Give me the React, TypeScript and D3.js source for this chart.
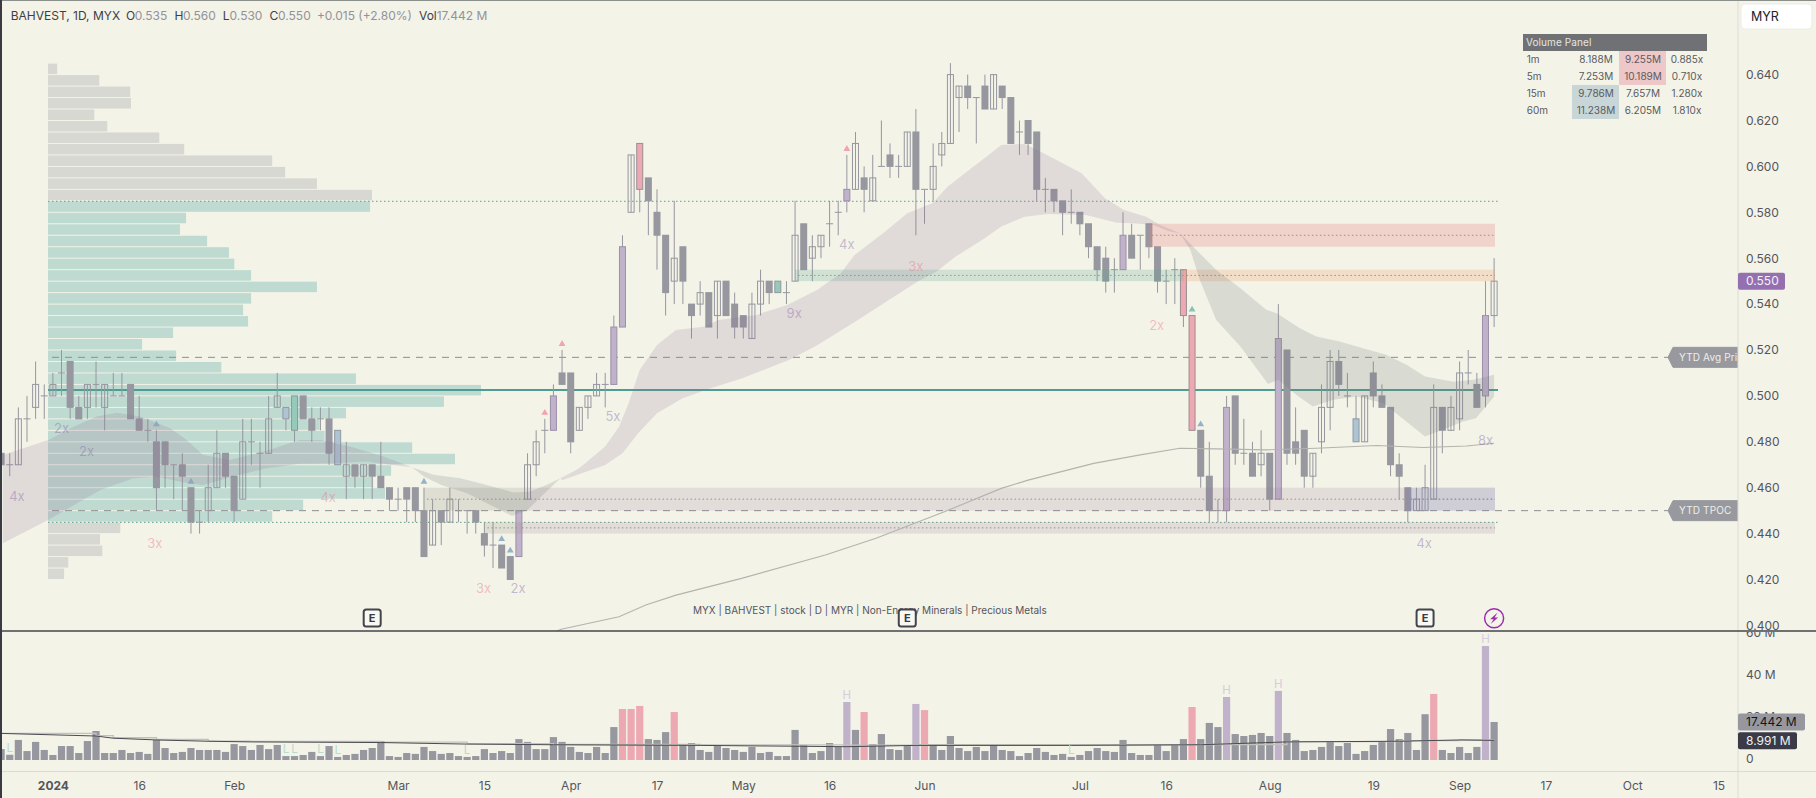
import React, { useEffect, useRef } from 'react'
import * as d3 from 'd3'

const FONT = 'Inter, sans-serif'
const BG = '#f3f3e8'

// daily bars, index 0 = first visible bar
const opens = [
  .475, .47, .47, .49, .495, .50, .50, .51, .515, .495,
  .495, .505, .495, .50, .50, .505, .49, .485, .48, .48,
  .47, .47, .46, .445, .45, .46, .475, .465, .455, .48,
  .475, .475, .495, .495, .50, .50, .49, .49, .49, .47,
  .465, .47, .465, .47, .465, .46, .455, .46, .46, .45,
  .435, .45, .445, .45, .45, .45, .44, .435, .435, .43,
  .43, .455, .47, .485, .485, .51, .51, .485, .495, .50,
  .505, .505, .53, .58, .61, .595, .58, .57, .55, .565,
  .54, .54, .545, .535, .55, .54, .535, .525, .54, .55,
  .55, .545, .55, .575, .56, .565, .575, .58, .585, .59,
  .595, .585, .60, .605, .60, .60, .615, .59, .59, .605,
  .61, .63, .635, .63, .635, .625, .635, .63, .615, .62,
  .615, .59, .59, .585, .58, .58, .575, .565, .56, .555,
  .555, .57, .57, .575, .565, .55, .555, .555, .535, .485,
  .465, .45, .45, .50, .475, .475, .47, .475, .455, .52,
  .48, .485, .465, .48, .495, .515, .50, .48, .48, .51,
  .50, .495, .47, .46, .45, .45, .455, .495, .485, .49,
  .51, .505, .50, .535,
]
const highs = [
  .475, .475, .495, .50, .515, .505, .51, .52, .515, .50,
  .505, .515, .505, .51, .51, .505, .50, .49, .485, .48,
  .47, .475, .46, .45, .47, .485, .475, .465, .49, .49,
  .48, .50, .51, .495, .50, .50, .495, .495, .495, .485,
  .48, .47, .47, .47, .48, .46, .46, .46, .46, .46,
  .455, .45, .46, .455, .45, .45, .445, .445, .435, .43,
  .45, .475, .485, .49, .505, .52, .51, .495, .50, .51,
  .51, .535, .57, .605, .61, .595, .59, .57, .585, .565,
  .54, .55, .545, .55, .55, .545, .535, .545, .555, .55,
  .55, .55, .585, .575, .57, .57, .585, .585, .605, .615,
  .60, .605, .62, .61, .605, .615, .625, .59, .61, .615,
  .645, .635, .64, .63, .64, .64, .635, .63, .62, .62,
  .615, .595, .59, .585, .59, .58, .575, .565, .565, .56,
  .58, .575, .57, .575, .565, .555, .56, .555, .535, .485,
  .48, .455, .50, .50, .49, .48, .485, .475, .54, .52,
  .495, .485, .475, .505, .52, .52, .51, .50, .50, .515,
  .505, .495, .475, .46, .46, .47, .505, .495, .50, .515,
  .52, .51, .55, .56,
]
const lows = [
  .47, .465, .47, .48, .49, .49, .50, .50, .49, .49,
  .49, .495, .485, .50, .50, .49, .485, .48, .45, .46,
  .455, .45, .44, .44, .445, .46, .46, .445, .455, .47,
  .46, .475, .495, .485, .48, .49, .48, .485, .47, .47,
  .455, .46, .455, .455, .46, .45, .45, .445, .445, .43,
  .435, .435, .445, .445, .44, .44, .43, .425, .425, .42,
  .43, .455, .465, .475, .485, .505, .475, .485, .49, .50,
  .495, .505, .53, .58, .58, .57, .555, .535, .54, .54,
  .525, .535, .53, .525, .535, .525, .525, .525, .535, .54,
  .545, .54, .55, .555, .55, .56, .565, .57, .58, .59,
  .58, .585, .60, .595, .595, .60, .57, .575, .585, .60,
  .61, .615, .625, .61, .625, .625, .625, .61, .605, .605,
  .585, .58, .58, .57, .575, .57, .56, .55, .545, .545,
  .555, .56, .555, .56, .545, .54, .54, .53, .485, .46,
  .445, .445, .445, .47, .47, .465, .465, .45, .455, .47,
  .47, .46, .46, .475, .485, .50, .495, .48, .48, .495,
  .495, .465, .455, .445, .45, .45, .455, .475, .485, .485,
  .505, .495, .495, .53,
]
const closes = [
  .47, .47, .49, .49, .505, .50, .505, .51, .495, .49,
  .505, .505, .505, .50, .50, .49, .485, .485, .46, .47,
  .47, .465, .445, .445, .46, .475, .465, .45, .48, .48,
  .475, .49, .50, .49, .485, .49, .485, .49, .475, .485,
  .47, .465, .47, .465, .46, .455, .455, .455, .45, .43,
  .45, .445, .455, .45, .45, .445, .435, .435, .425, .42,
  .45, .47, .48, .485, .50, .505, .48, .495, .50, .505,
  .505, .53, .565, .605, .59, .585, .57, .545, .56, .55,
  .535, .545, .53, .55, .535, .53, .53, .54, .55, .545,
  .545, .545, .57, .555, .565, .57, .575, .58, .59, .61,
  .59, .595, .60, .60, .60, .615, .59, .59, .60, .61,
  .64, .635, .63, .63, .625, .64, .63, .61, .615, .61,
  .59, .59, .585, .58, .58, .575, .565, .555, .55, .555,
  .57, .56, .57, .565, .55, .55, .555, .535, .485, .465,
  .45, .45, .495, .475, .475, .465, .475, .455, .525, .475,
  .475, .465, .475, .495, .515, .505, .50, .49, .50, .50,
  .495, .47, .465, .45, .455, .46, .495, .485, .495, .51,
  .51, .495, .535, .55,
]

const purpleBars = [61, 65, 72, 73, 99, 131, 143, 149, 173]
const pinkBars = [75, 138, 139]
const blueBars = [34, 40, 158]
const tealBars = [35, 91]

// volume in millions
const volumes = [
  5, 2.4, 9.2, 4.1, 8.3, 4.6, 2.3, 6.4, 6.4, 3.2,
  8.7, 13.3, 3.2, 3.2, 4.6, 3.2, 3.7, 2.8, 9.2, 5.5,
  3.2, 3.7, 5.5, 4.6, 4.6, 4.6, 3.7, 7.3, 6.4, 4.6,
  6.9, 5, 6.9, 1.8, 1.8, 2.3, 3.7, 1.8, 6.4, 1.4,
  2.3, 2.8, 4.6, 5.5, 8.7, 1.8, 1.4, 3.2, 2.8, 6,
  4.1, 2.8, 3.2, 1.8, 1.4, 1.8, 5, 3.2, 4.1, 3.2,
  9.6, 8.3, 5, 5, 10.5, 8.3, 6, 3.7, 3.2, 6,
  3.2, 15.1, 23.4, 23.4, 24.8, 9.6, 9.2, 12.8, 22, 6.9,
  7.8, 4.6, 3.7, 6.4, 5.5, 4.6, 3.7, 6, 3.2, 3.7,
  1.8, 1.8, 13.8, 6.9, 3.2, 4.1, 7.8, 6, 26.6, 13.8,
  22, 7.3, 11.9, 5, 4.6, 6.4, 25.7, 22.9, 6.9, 4.6,
  11, 5.5, 4.1, 6, 4.1, 7.3, 4.6, 4.1, 1.8, 3.2,
  5.5, 3.7, 2.3, 2.8, 1.4, 2.3, 4.1, 5.5, 4.1, 3.7,
  9.2, 3.2, 2.3, 2.3, 6.9, 4.1, 6.9, 9.6, 24.3, 9.6,
  17, 15.1, 28.9, 11.9, 11, 11.5, 12.4, 11, 31.7, 12.4,
  9.2, 4.1, 4.6, 6, 8.7, 6.4, 7.8, 2.8, 4.1, 6.9,
  8.7, 14.2, 9.6, 12.4, 4.6, 21, 30.3, 4.6, 3.2, 6,
  3.2, 6, 52.3, 17.442,
]
const volPinkBars = [73, 74, 75, 79, 101, 108, 139, 167]
const volPurpleBars = [99, 107, 143, 149, 173]
const volHighLabels = [99, 143, 149, 173]
const volLowLabels = [2, 34, 35, 38, 40, 55, 125]

const volMaBars = [1, 12, 14, 19, 25, 30, 45, 55, 65, 82, 99, 107, 125, 140, 150, 163, 170, 174]
const volMaValues = [12.2, 11, 10, 9.2, 8.6, 8.3, 8, 7.3, 7, 6.7, 6.1, 6.7, 6.7, 7, 8.3, 8.6, 9.2, 9]
const volMaAltValues = [12.2, 11.2, 10.2, 9.4, 8.7, 8.5, 8.2, 7.5, 7.1, 6.9, 6.8, 7, 7, 7.1, 8.4, 8.9, 9.2, 9.2]

// moving average ribbon, [bar, price]
const ribbonPurpleAUpper = [[1.2, .4743], [6.5, .4808], [9.4, .4866], [12.1, .491], [14.4, .4927], [17.1, .491], [20.6, .4859], [22.5, .4808], [24.4, .4743], [27.5, .4721], [31.4, .4757], [35.6, .4808], [38, .4808], [41.4, .4779], [45.3, .4736], [48.6, .4689]]
const ribbonPurpleALower = [[1.2, .4358], [6.5, .446], [9.8, .4532], [12.5, .459], [16.3, .4641], [19, .4649], [22.5, .462], [24.4, .4612], [27.9, .4649], [31.8, .4685], [35.6, .4704], [39.5, .4707], [43.4, .4714], [46.4, .4699], [48.6, .4689]]
const ribbonGrayAUpper = [[48.6, .4689], [51.1, .4656], [54.2, .4641], [57.3, .4612], [60.4, .4579], [62.3, .4583], [64.2, .4612], [65.8, .4641]]
const ribbonGrayALower = [[48.6, .4689], [50, .4649], [52, .4612], [55, .4576], [57.7, .4525], [60.2, .4477], [62, .4503], [63.8, .4569], [65.8, .4641]]
const ribbonPurpleBUpper = [[65.8, .4641], [67.7, .4678], [68.2, .4691], [71, .4779], [72.6, .4866], [73.7, .4967], [75, .5113], [77, .5222], [79.2, .5287], [82.6, .5302], [84.1, .5331], [88.5, .5353], [92.1, .5396], [95.6, .5462], [98.3, .5534], [99.9, .5614], [103.2, .5709], [106, .5796], [108.9, .5839], [110.7, .5912], [112.9, .5977], [115.2, .6043], [116.9, .6093], [119.6, .6098], [121.8, .6057], [126.2, .597], [128.9, .5861], [131.1, .581], [133.7, .5781], [135.3, .5745], [137.6, .5709]]
const ribbonPurpleBLower = [[65.8, .4641], [66, .4633], [68.2, .4662], [71, .4699], [73, .475], [74.8, .4837], [77, .4924], [79.9, .4989], [83.2, .5033], [86.8, .5076], [92.3, .5156], [95.6, .5222], [100, .5324], [104.5, .5433], [107.2, .5498], [109.4, .5542], [111.6, .5607], [114.7, .568], [116.9, .5738], [119.6, .5781], [122.3, .5793], [126.7, .5788], [130.3, .5755], [132.2, .5752], [134.5, .5745], [136.4, .5716], [137.6, .5709]]
const ribbonGrayBUpper = [[137.6, .5709], [139.1, .5651], [141.8, .5549], [144.6, .5469], [147.6, .5375], [148.8, .536], [151.5, .5295], [153.4, .5259], [156.1, .5237], [158.8, .5208], [161.5, .5179], [163.9, .5135], [166, .5084], [169.3, .5062], [171.6, .507], [174, .5092]]
const ribbonGrayBLower = [[137.6, .5709], [138.8, .5636], [139.9, .5505], [141.8, .5331], [144.6, .5215], [147.8, .5052], [149, .507], [151.1, .5004], [153, .4954], [155.4, .4983], [158.1, .4997], [161.2, .4968], [163.1, .491], [166, .4823], [168.5, .4859], [170.4, .4888], [171.9, .4903], [174, .4997]]

const longMa = [[65, .397], [65.9, .3983], [72.6, .4038], [75.7, .4089], [79.2, .4132], [86.8, .4205], [96.5, .4307], [102.3, .4379], [110.3, .4495], [116.9, .4597], [120, .4633], [127.6, .4706], [133, .4743], [137.6, .4772], [141.8, .4769], [147.6, .4765], [153.4, .4772], [160.4, .4784], [165.8, .4775], [170.8, .4782], [174, .4794]]

// volume profile, one row per 0.005 from the top price down
const profileTop = 0.645
const profileGrayTop = [24, 134, 215, 217, 121, 155, 291, 356, 586, 620, 703, 847]
const profileTeal = [842, 361, 345, 416, 473, 487, 531, 703, 531, 510, 523, 327, 246, 335, 453, 805, 1132, 1035, 779, 710, 723, 952, 1064, 897, 850, 881, 667, 586]
const profileGrayBottom = [189, 136, 142, 53, 42]

// support and resistance zones: first bar, last bar, top, bottom, kind
const zoneKinds = ['red', 'orange', 'teal', 'gray', 'purple', 'blue', 'gray', 'purple']
const zoneStarts = [134, 138, 93, 50, 62, 164, 57, 61]
const zoneEnds = [174.1, 174.1, 138, 62, 174.1, 174.1, 61, 174.1]
const zoneTops = [.575, .555, .555, .46, .46, .46, .445, .445]
const zoneBottoms = [.565, .55, .55, .45, .45, .45, .44, .44]

const pocPrice = 0.5026
const vaHigh = 0.5848
const vaLow = 0.4449
const avgPrice = 0.5168
const tpocPrice = 0.45
const lastPrice = 0.55

const upSignalBars = [[19, 'blue'], [23, 'blue'], [50, 'blue'], [59, 'blue'], [60, 'blue'], [64, 'pink'], [66, 'pink'], [99, 'pink'], [139, 'teal'], [140, 'blue']]
const multiples = [
  ['4x', 2.84, .456, 'purple'], ['2x', 8, .486, 'purple'], ['2x', 10.9, .4757, 'purple'],
  ['3x', 18.8, .4359, 'pink'], ['4x', 38.9, .4556, 'pink'], ['3x', 56.9, .4159, 'pink'],
  ['2x', 60.9, .4159, 'purple'], ['5x', 71.9, .4909, 'purple'], ['9x', 92.9, .5361, 'purple'],
  ['4x', 99, .5662, 'purple'], ['3x', 107, .5562, 'pink'], ['2x', 134.9, .5306, 'pink'],
  ['8x', 173, .4807, 'purple'], ['4x', 165.9, .4359, 'purple'],
]
const earningsBars = [44, 106, 166]
const dividendBar = 174

const priceTicks = [.4, .42, .44, .46, .48, .5, .52, .54, .56, .58, .6, .62, .64]
const volumeTicks = [0, 20, 40, 60]
const timeTickBars = [7, 17, 28, 47, 57, 67, 77, 87, 97, 108, 126, 136, 148, 160, 170, 180, 190, 200]
const timeTickLabels = ['2024', '16', 'Feb', 'Mar', '15', 'Apr', '17', 'May', '16', 'Jun', 'Jul', '16', 'Aug', '19', 'Sep', '17', 'Oct', '15']

const panelTitle = 'Volume Panel'
const panelFrames = ['1m', '5m', '15m', '60m']
const panelBuy = ['8.188M', '7.253M', '9.786M', '11.238M']
const panelSell = ['9.255M', '10.189M', '7.657M', '6.205M']
const panelRatio = ['0.885x', '0.710x', '1.280x', '1.810x']

const App: React.FC = () => {
    const svgRef = useRef<SVGSVGElement | null>(null)

    useEffect(() => {
        if (!svgRef.current) return
        document.body.style.margin = '0'

        const width = 1816
        const height = 798
        const axisX = 1738
        const paneBottom = 631

        const svg = d3.select(svgRef.current).attr('viewBox', `0 0 ${width} ${height}`)
        svg.selectAll('*').remove()

        const x = d3.scaleLinear().domain([1, 200]).range([1.1, 1718.5])
        const y = d3.scaleLinear().domain([0.64, 0.4]).range([74.6, 625.4])
        const vol = d3.scaleLinear().domain([0, 60]).range([760, 629.2])
        const volTicks = d3.scaleLinear().domain([0, 60]).range([758.5, 633])
        const profileW = d3.scaleLinear().domain([0, 1132]).range([0, 433])

        const defs = svg.append('defs')
        const clip = (id: string, cx: number, cy: number, w: number, h: number) =>
            defs.append('clipPath').attr('id', id).append('rect')
                .attr('x', cx).attr('y', cy).attr('width', w).attr('height', h)
        clip('pane', 2, 1, axisX - 2, paneBottom - 1)
        clip('allBars', 2, 0, axisX - 2, height)
        // these two sit in the axis groups' own coordinates
        clip('priceAxis', 0, 0, width - axisX, paneBottom)
        clip('volAxis', 0, paneBottom + 1, width - axisX, 140)

        svg.append('rect').attr('width', width).attr('height', height).attr('fill', BG)

        const label = (
            g: d3.Selection<any, unknown, null, undefined>,
            str: string, tx: number, ty: number, size: number, color: string, anchor = 'start'
        ) =>
            g.append('text')
                .attr('x', tx).attr('y', ty)
                .attr('dy', '0.35em')
                .attr('text-anchor', anchor)
                .attr('font-family', FONT)
                .attr('font-size', size)
                .attr('fill', color)
                .text(str)

        const pane = svg.append('g').attr('clip-path', 'url(#pane)')

        // volume profile
        const profileRows = [
            ...profileGrayTop.map((v) => ({ v, fill: '#d8d8d3' })),
            ...profileTeal.map((v) => ({ v, fill: '#bedad1' })),
            ...profileGrayBottom.map((v) => ({ v, fill: '#d8d8d3' })),
        ]
        pane.append('g').selectAll('rect').data(profileRows).join('rect')
            .attr('x', 48)
            .attr('y', (_, i) => y(profileTop - i * 0.005) + 0.5)
            .attr('width', (d) => profileW(d.v))
            .attr('height', y(0.4) - y(0.405) - 1)
            .attr('fill', (d) => d.fill)

        // level lines under the candles
        const hLine = (p: number, x1: number, x2: number, color: string, w: number, dash?: string) =>
            pane.append('line')
                .attr('x1', x1).attr('x2', x2)
                .attr('y1', y(p)).attr('y2', y(p))
                .attr('stroke', color).attr('stroke-width', w)
                .attr('stroke-dasharray', dash ?? null)

        hLine(avgPrice, 52, 1668, '#8f8f93', 1, '7 6')
        hLine(tpocPrice, 52, 1668, '#8f8f93', 1, '7 6')
        hLine(vaHigh, 48, 1498, '#5f9f8e', 1, '1.5 2.5')
        hLine(vaLow, 48, 1498, '#5f9f8e', 1, '1.5 2.5')
        hLine(pocPrice, 48, 1498, '#4f9c92', 2)

        // candles
        const colorOf = (k: number) => {
            if (purpleBars.includes(k)) return { fill: '#c0b2cb', stroke: '#9c90a8' }
            if (pinkBars.includes(k)) return { fill: '#eca9b2', stroke: '#9b8d95' }
            if (blueBars.includes(k)) return { fill: '#aec4d2', stroke: '#8f98a4' }
            if (tealBars.includes(k)) return { fill: '#96c9ba', stroke: '#8f98a0' }
            return null
        }
        const candles = pane.append('g').selectAll('g').data(d3.range(1, opens.length + 1)).join('g')
        candles.append('line')
            .attr('x1', (k) => x(k)).attr('x2', (k) => x(k))
            .attr('y1', (k) => y(highs[k - 1])).attr('y2', (k) => y(lows[k - 1]))
            .attr('stroke', '#96979f').attr('stroke-width', 1)
        candles.each(function (k) {
            const o = opens[k - 1]
            const c = closes[k - 1]
            const g = d3.select(this)
            const special = colorOf(k)
            if (o === c && !special) {
                g.append('line')
                    .attr('x1', x(k) - 3.5).attr('x2', x(k) + 3.5)
                    .attr('y1', y(o)).attr('y2', y(o))
                    .attr('stroke', '#96979f').attr('stroke-width', 1)
                return
            }
            const top = y(Math.max(o, c))
            const bottom = y(Math.min(o, c))
            if (special) {
                g.append('rect')
                    .attr('x', x(k) - 3).attr('width', 6)
                    .attr('y', top).attr('height', bottom - top)
                    .attr('fill', special.fill).attr('stroke', special.stroke)
            } else if (c > o) {
                g.append('rect')
                    .attr('x', x(k) - 3).attr('width', 6)
                    .attr('y', top).attr('height', bottom - top)
                    .attr('fill', 'none').attr('stroke', '#96979f')
            } else {
                g.append('rect')
                    .attr('x', x(k) - 3.5).attr('width', 7)
                    .attr('y', top - 0.5).attr('height', bottom - top + 1)
                    .attr('fill', '#96979f')
            }
        })

        // small triangles above signal bars
        const signalColors: Record<string, string> = { blue: '#94b3c8', pink: '#f0a3b0', teal: '#86c3b4' }
        pane.append('g').selectAll('path').data(upSignalBars).join('path')
            .attr('d', d3.symbol().type(d3.symbolTriangle).size(20))
            .attr('transform', (d) => `translate(${x(d[0] as number)},${y(highs[(d[0] as number) - 1]) - 6})`)
            .attr('fill', (d) => signalColors[d[1] as string])

        // zones
        const zoneFill: Record<string, string> = {
            red: 'rgba(232,130,130,0.28)',
            orange: 'rgba(240,160,110,0.26)',
            teal: 'rgba(90,170,140,0.22)',
            gray: 'rgba(150,150,130,0.22)',
            purple: 'rgba(150,115,150,0.17)',
            blue: 'rgba(130,150,200,0.2)',
        }
        zoneKinds.forEach((kind, i) => {
            pane.append('rect')
                .attr('x', x(zoneStarts[i])).attr('width', x(zoneEnds[i]) - x(zoneStarts[i]))
                .attr('y', y(zoneTops[i])).attr('height', y(zoneBottoms[i]) - y(zoneTops[i]))
                .attr('fill', zoneFill[kind])
            hLine((zoneTops[i] + zoneBottoms[i]) / 2, x(zoneStarts[i]) + 3, x(zoneEnds[i]), '#9c8f96', 1, '1.5 2.5')
        })

        // ribbon
        const poly = d3.line<number[]>().x((d) => x(d[0])).y((d) => y(d[1]))
        const ribbon = (upper: number[][], lower: number[][], fill: string) =>
            pane.append('path')
                .attr('d', poly([...upper, ...[...lower].reverse()]))
                .attr('fill', fill)
        const ribbonPurple = 'rgba(145,110,150,0.19)'
        const ribbonGray = 'rgba(113,118,120,0.2)'
        ribbon(ribbonPurpleAUpper, ribbonPurpleALower, ribbonPurple)
        ribbon(ribbonGrayAUpper, ribbonGrayALower, ribbonGray)
        ribbon(ribbonPurpleBUpper, ribbonPurpleBLower, ribbonPurple)
        ribbon(ribbonGrayBUpper, ribbonGrayBLower, ribbonGray)

        pane.append('path')
            .attr('d', poly(longMa))
            .attr('fill', 'none').attr('stroke', '#b4b4ae').attr('stroke-width', 1.1)

        // multiples
        const multipleColors: Record<string, string> = { purple: 'rgba(130,100,170,0.42)', pink: 'rgba(235,110,135,0.42)' }
        multiples.forEach((m) => {
            label(pane, m[0] as string, x(m[1] as number), y(m[2] as number), 13, multipleColors[m[3] as string], 'middle')
        })

        // right side level tags
        const levelTag = (p: number, str: string) => {
            const cy = y(p)
            pane.append('path')
                .attr('d', `M1668,${cy} L1673,${cy - 10} H1740 V${cy + 10} H1673 Z`)
                .attr('fill', '#98999f').attr('stroke', '#98999f').attr('stroke-linejoin', 'round')
            label(pane, str, 1679, cy, 10, '#eeeeea').attr('letter-spacing', 0.15)
        }
        levelTag(avgPrice, 'YTD Avg Price')
        levelTag(tpocPrice, 'YTD TPOC')

        // footer text and event markers
        label(pane, 'MYX | BAHVEST | stock | D | MYR | Non-Energy Minerals | Precious Metals', 693, 610.7, 10, '#55555c')
        earningsBars.forEach((k) => {
            pane.append('rect')
                .attr('x', x(k) - 8.5).attr('y', 609.5)
                .attr('width', 17).attr('height', 17).attr('rx', 2.5)
                .attr('fill', '#f9f9f4').attr('stroke', '#44444c').attr('stroke-width', 2)
            label(pane, 'E', x(k), 618.2, 11, '#3a3a42', 'middle').attr('font-weight', 700)
        })
        const boltX = x(dividendBar)
        pane.append('circle').attr('cx', boltX).attr('cy', 618.3).attr('r', 9.5)
            .attr('fill', BG).attr('stroke', '#9c2cb0').attr('stroke-width', 1.5)
        pane.append('path')
            .attr('d', `M${boltX + 3.5},${612.5} L${boltX - 4},${619.2} H${boltX - 0.5} L${boltX - 3.5},${624} L${boltX + 4},${617.4} H${boltX + 0.5} Z`)
            .attr('fill', '#9c2cb0')

        // volume pane
        const volPane = svg.append('g').attr('clip-path', 'url(#allBars)')
        const volColor = (k: number) => {
            if (volPinkBars.includes(k)) return '#eca9b2'
            if (volPurpleBars.includes(k)) return '#c0b2cb'
            return '#96979f'
        }
        volPane.append('g').selectAll('rect').data(d3.range(1, volumes.length + 1)).join('rect')
            .attr('x', (k) => x(k) - 3.6)
            .attr('width', 7.2)
            .attr('y', (k) => vol(volumes[k - 1]))
            .attr('height', (k) => vol(0) - vol(volumes[k - 1]))
            .attr('fill', (k) => volColor(k))

        const volLine = d3.line<number>().x((k) => x(k))
        volPane.append('path')
            .attr('d', volLine.y((_, i) => vol(volMaAltValues[i])).curve(d3.curveStepAfter)(volMaBars))
            .attr('fill', 'none').attr('stroke', '#c2c2ba').attr('stroke-width', 1.3)
        volPane.append('path')
            .attr('d', volLine.y((_, i) => vol(volMaValues[i])).curve(d3.curveLinear)(volMaBars))
            .attr('fill', 'none').attr('stroke', '#4a4a52').attr('stroke-width', 1)

        volHighLabels.forEach((k) => label(volPane, 'H', x(k), vol(volumes[k - 1]) - 7, 11.5, '#d5cddd', 'middle'))
        volLowLabels.forEach((k) => label(volPane, 'L', x(k), vol(volumes[k - 1]) - 7, 11.5, '#b6dccf', 'middle'))

        // frame lines
        svg.append('line').attr('x1', axisX).attr('x2', axisX).attr('y1', 0).attr('y2', height)
            .attr('stroke', '#dcdcd2').attr('stroke-width', 1)
        svg.append('line').attr('x1', 0).attr('x2', width).attr('y1', 771.5).attr('y2', 771.5)
            .attr('stroke', '#dcdcd2').attr('stroke-width', 1)

        // axes
        const styleAxis = (g: d3.Selection<SVGGElement, unknown, null, undefined>, color: string, size: number) => {
            g.select('.domain').remove()
            g.selectAll('.tick line').remove()
            g.selectAll('text').attr('fill', color).attr('font-family', FONT).attr('font-size', size)
            g.attr('font-family', null)
        }

        svg.append('g')
            .attr('transform', `translate(${axisX},0)`)
            .attr('clip-path', 'url(#priceAxis)')
            .call(d3.axisRight(y).tickValues(priceTicks).tickFormat((d) => d3.format('.3f')(d as number)).tickSize(0).tickPadding(8))
            .call((g) => styleAxis(g, '#55555c', 12))

        svg.append('g')
            .attr('transform', `translate(${axisX},0)`)
            .attr('clip-path', 'url(#volAxis)')
            .call(d3.axisRight(volTicks).tickValues(volumeTicks).tickFormat((d) => (d ? `${d} M` : '0')).tickSize(0).tickPadding(8))
            .call((g) => styleAxis(g, '#55555c', 12))

        svg.append('g')
            .attr('transform', 'translate(0,781)')
            .call(d3.axisBottom(x).tickValues(timeTickBars).tickFormat((_, i) => timeTickLabels[i]).tickSize(0).tickPadding(0))
            .call((g) => styleAxis(g, '#55555c', 12))
            .call((g) => g.selectAll('text').filter((_, i) => i === 0).attr('font-weight', 700))

        // separator between the panes
        svg.append('line').attr('x1', 0).attr('x2', width).attr('y1', paneBottom).attr('y2', paneBottom)
            .attr('stroke', '#45454c').attr('stroke-width', 1.3)

        // axis value tags
        const tag = (tx: number, tw: number, cy: number, h: number, fill: string, color: string, str: string) => {
            svg.append('rect').attr('x', tx).attr('y', cy - h / 2).attr('width', tw).attr('height', h)
                .attr('rx', 2).attr('fill', fill)
            label(svg as any, str, tx + 8, cy, 12, color)
        }
        tag(axisX, 47, y(lastPrice), 17, '#9470b0', '#f5f0fa', d3.format('.3f')(lastPrice))
        tag(axisX, 67, vol(volumes[volumes.length - 1]), 17, '#97989f', '#15151a', '17.442 M')
        tag(axisX, 59, vol(volMaValues[volMaValues.length - 1]) + 0.4, 17, '#3a3b46', '#f2f2f2', '8.991 M')

        // currency button
        svg.append('rect').attr('x', 1741).attr('y', 4).attr('width', 71).attr('height', 25).attr('rx', 4)
            .attr('fill', '#fff').attr('stroke', '#ecece6')
        label(svg as any, 'MYR', 1751, 17, 12.5, '#222228').attr('font-weight', 400)

        // volume panel table
        const table = svg.append('g')
        const tableX = [1523, 1572, 1619, 1666, 1707]
        table.append('rect').attr('x', tableX[0]).attr('y', 34).attr('width', tableX[4] - tableX[0]).attr('height', 17).attr('fill', '#707175')
        label(table, panelTitle, 1526, 42.5, 10, '#e6e6e0').attr('letter-spacing', 0.1)
        panelFrames.forEach((frame, i) => {
            const top = 51 + i * 17
            const mid = top + 8.5
            const buyHigher = parseFloat(panelRatio[i]) > 1
            table.append('rect')
                .attr('x', buyHigher ? tableX[1] : tableX[2]).attr('y', top)
                .attr('width', 47).attr('height', 17)
                .attr('fill', buyHigher ? '#c8d6d8' : '#eec8c8')
            label(table, frame, 1526.7, mid, 10, '#5a5a60')
            label(table, panelBuy[i], 1596, mid, 10, '#5a5a60', 'middle')
            label(table, panelSell[i], 1643, mid, 10, '#5a5a60', 'middle')
            label(table, panelRatio[i], 1687, mid, 10, '#5a5a60', 'middle')
        })

        // legend line
        const head = svg.append('g')
        const dark = '#3e3e46'
        const soft = '#92929a'
        label(head, 'BAHVEST, 1D, MYX', 10.7, 16, 12, dark)
        label(head, 'O', 126, 16, 12, dark)
        label(head, '0.535', 134.7, 16, 12, soft)
        label(head, 'H', 174.5, 16, 12, dark)
        label(head, '0.560', 183, 16, 12, soft)
        label(head, 'L', 222.7, 16, 12, dark)
        label(head, '0.530', 229.6, 16, 12, soft)
        label(head, 'C', 269.4, 16, 12, dark)
        label(head, '0.550', 278, 16, 12, soft)
        label(head, '+0.015 (+2.80%)', 316.9, 16, 12, soft)
        label(head, 'Vol', 419, 16, 12, dark)
        label(head, '17.442 M', 436.7, 16, 12, soft)

        // window edges
        svg.append('rect').attr('x', 0).attr('y', 0).attr('width', width).attr('height', 1).attr('fill', '#8b908d')
        svg.append('rect').attr('x', 0).attr('y', 0).attr('width', 2).attr('height', height).attr('fill', '#3a3a42')
    }, [])

    return <svg ref={svgRef} width={1816} height={798} style={{ display: 'block', position: 'fixed', left: 0, top: 0 }} />
}

export default App
